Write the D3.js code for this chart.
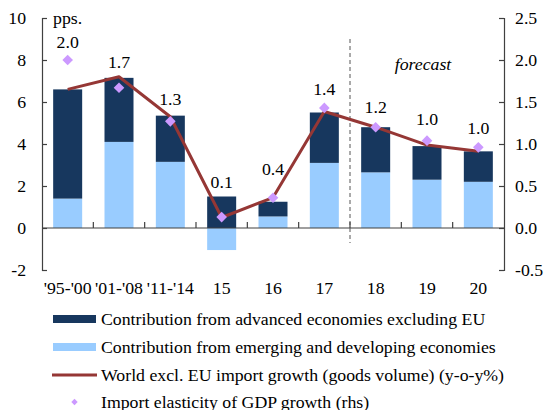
<!DOCTYPE html>
<html><head><meta charset="utf-8">
<script src="https://cdn.jsdelivr.net/npm/d3@7"></script>
<style>
html,body{margin:0;padding:0;background:#fff;}
svg{display:block;}
svg text{font-family:"Liberation Serif","Times New Roman",serif;fill:#000;}
</style></head>
<body><svg id="chart" width="549" height="410"></svg>
<script>
// ---- data ----
const categories = ["'95-'00","'01-'08","'11-'14","15","16","17","18","19","20"];
const advanced   = [5.2, 3.05, 2.2, 1.5, 0.7, 2.4, 2.15, 1.6, 1.45];   // dark bars
const emerging   = [1.4, 4.1, 3.15, -1.05, 0.55, 3.1, 2.65, 2.3, 2.2]; // light bars
const importGrowth = [6.6, 7.2, 5.3, 0.5, 1.45, 5.55, 4.8, 3.95, 3.65];  // line (lhs)
const elasticity = [2.0, 1.67, 1.27, 0.13, 0.36, 1.43, 1.2, 1.04, 0.96]; // diamonds (rhs)
const leftTicks  = [-2, 0, 2, 4, 6, 8, 10];
const rightTicks = [-0.5, 0.0, 0.5, 1.0, 1.5, 2.0, 2.5];
const legendLabels = [
  "Contribution from advanced economies excluding EU",
  "Contribution from emerging and developing economies",
  "World excl. EU import growth (goods volume) (y-o-y%)",
  "Import elasticity of GDP growth (rhs)"
];
// ---- layout / style ----
const labelDy = [-18, -25, -22, -35, -28, -18, -20, -21, -19];
const C = {dark:"#17375E", light:"#99CCFF", line:"#953735", diamond:"#CC99FF", axis:"#404040"};
const L = 42, R = 504, T = 18, B = 270;
const FS = 16, STRETCH = 1.11;

const svg = d3.select("#chart");
const x = d3.scaleBand().domain(categories).range([L, R]).paddingInner(0.435).paddingOuter(0.2175);
const yL = d3.scaleLinear().domain([-2, 10]).range([B, T]);
const yR = d3.scaleLinear().domain([-0.5, 2.5]).range([B, T]);
const hy = f => d => f(d).replace("\u2212", "-");

// stacked bars
const rows = categories.map((c, i) => ({cat: c, emerging: emerging[i], advanced: advanced[i]}));
const series = d3.stack().keys(["emerging", "advanced"]).offset(d3.stackOffsetDiverging)(rows);
const colors = {emerging: C.light, advanced: C.dark};
svg.append("g").selectAll("g").data(series).join("g")
  .attr("fill", d => colors[d.key])
  .selectAll("rect").data(d => d).join("rect")
  .attr("x", d => x(d.data.cat))
  .attr("width", x.bandwidth())
  .attr("y", d => yL(Math.max(d[0], d[1])))
  .attr("height", d => Math.abs(yL(d[0]) - yL(d[1])));

// zero line with category boundary ticks
const g0 = svg.append("g").attr("stroke", C.axis).attr("stroke-width", 1.2);
g0.append("line").attr("x1", L).attr("x2", R).attr("y1", yL(0)).attr("y2", yL(0));
d3.range(1, categories.length).forEach(i => {
  const bx = x(categories[i]) - x.step() * x.paddingInner() / 2;
  g0.append("line").attr("x1", bx).attr("x2", bx).attr("y1", yL(0) - 6).attr("y2", yL(0));
});

// x labels
const xa = svg.append("g").attr("transform", `translate(0,${yL(0)})`)
  .call(d3.axisBottom(x).tickSize(0).tickPadding(54.5));
xa.select(".domain").remove();

// left axis
const la = svg.append("g").attr("transform", `translate(${L},0)`)
  .call(d3.axisLeft(yL).tickValues(leftTicks).tickSize(-5).tickSizeOuter(-5).tickPadding(16).tickFormat(hy(d3.format("d"))));
la.selectAll("path,line").attr("stroke", C.axis).attr("stroke-width", 1.2);

// right axis
const ra = svg.append("g").attr("transform", `translate(${R},0)`)
  .call(d3.axisRight(yR).tickValues(rightTicks).tickSize(-5).tickSizeOuter(-5).tickPadding(11).tickFormat(hy(d3.format(".1f"))));
ra.selectAll("path,line").attr("stroke", C.axis).attr("stroke-width", 1.2);

[xa, la, ra].forEach(a => a.attr("font-family", null).attr("font-size", null)
  .selectAll("text").attr("font-size", FS));

// forecast divider
const divX = x(categories[6]) - x.step() * x.paddingInner() / 2;
svg.append("line").attr("x1", divX).attr("x2", divX).attr("y1", 39).attr("y2", 243)
  .attr("stroke", "#555").attr("stroke-width", 1).attr("stroke-dasharray", "4,3");
svg.append("text").attr("x", 423).attr("y", 70).attr("text-anchor", "middle")
  .attr("font-size", FS).attr("font-style", "italic").text("forecast");
svg.append("text").attr("x", 53).attr("y", 23.5).attr("font-size", FS).text("pps.");

// line
const cx = c => x(c) + x.bandwidth() / 2;
svg.append("path").datum(importGrowth)
  .attr("fill", "none").attr("stroke", C.line).attr("stroke-width", 3).attr("stroke-linejoin", "round")
  .attr("d", d3.line().x((d, i) => cx(categories[i])).y(d => yL(d)));

// diamonds
const diamond = d3.symbol().type(d3.symbolDiamond2).size(72);
svg.append("g").selectAll("path").data(elasticity).join("path")
  .attr("transform", (d, i) => `translate(${cx(categories[i])},${yR(d)})`)
  .attr("d", diamond).attr("fill", C.diamond);

// data labels
const fmt = d3.format(".1f");
svg.append("g").selectAll("text").data(elasticity).join("text")
  .attr("x", (d, i) => cx(categories[i]))
  .attr("y", (d, i) => yR(d) + labelDy[i] + 5.5)
  .attr("text-anchor", "middle").attr("font-size", FS).text(d => fmt(d));

// legend
const lg = svg.append("g");
const ly = [319, 347, 375, 402];
lg.append("rect").attr("x", 53).attr("y", ly[0] - 4).attr("width", 43).attr("height", 8).attr("fill", C.dark);
lg.append("rect").attr("x", 53).attr("y", ly[1] - 4).attr("width", 43).attr("height", 8).attr("fill", C.light);
lg.append("line").attr("x1", 52).attr("x2", 97).attr("y1", ly[2]).attr("y2", ly[2]).attr("stroke", C.line).attr("stroke-width", 3);
lg.append("path").attr("transform", `translate(74.5,${ly[3]})`).attr("d", d3.symbol().type(d3.symbolDiamond2).size(26)).attr("fill", C.diamond);
lg.selectAll("text.lt").data(legendLabels).join("text").attr("class", "lt")
  .attr("x", 101).attr("y", (d, i) => ly[i] + 5.5).attr("font-size", FS).text(d => d);

// horizontal stretch of all texts to match reference glyph widths
svg.selectAll("text").each(function() {
  const w = this.getComputedTextLength();
  if (w > 0) d3.select(this).attr("textLength", w * STRETCH).attr("lengthAdjust", "spacingAndGlyphs");
});
</script></body></html>
